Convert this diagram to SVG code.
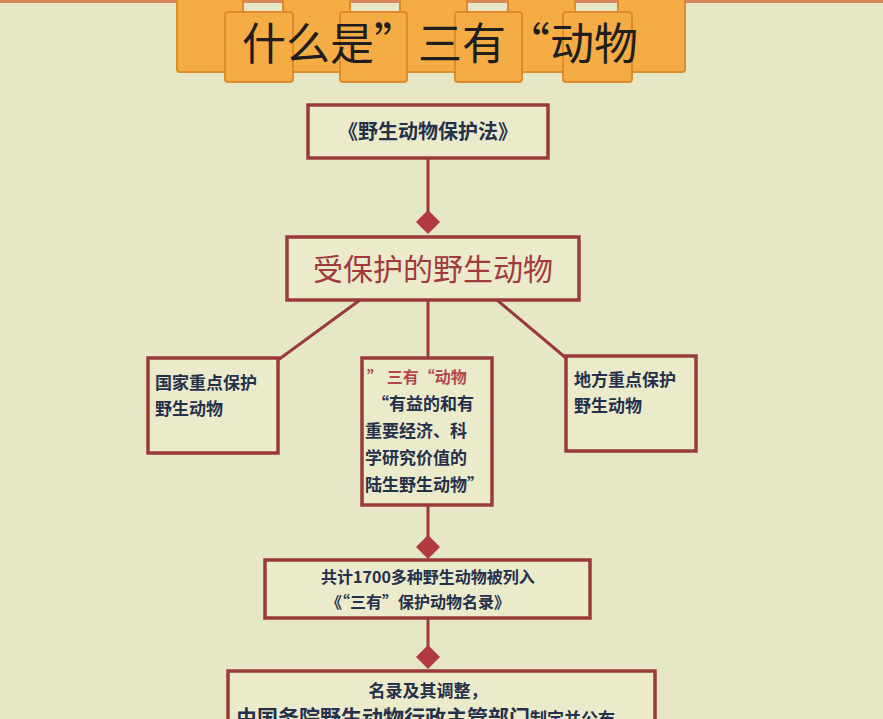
<svg xmlns="http://www.w3.org/2000/svg" width="883" height="719" viewBox="0 0 883 719">
<style>
.t{fill:#f5ac45;stroke:#e08a2a;stroke-width:2}
.b{fill:#ebebcc;stroke:#9a3b35;stroke-width:3.5}
.c{stroke:#9a3b35;stroke-width:3;fill:none}
.d{fill:#b23a3f}
text{font-family:"Noto Sans CJK SC","Liberation Sans",sans-serif;fill:#25304a;font-weight:bold}
</style>
<rect width="883" height="719" fill="#e6e7c7"/>
<rect width="883" height="3" fill="#d9865a"/>
<g id="title">
<rect class="t" x="177" y="-2" width="66" height="74" rx="3"/>
<rect class="t" x="283" y="-2" width="67" height="74" rx="3"/>
<rect class="t" x="400" y="-2" width="67" height="74" rx="3"/>
<rect class="t" x="508" y="-2" width="67" height="74" rx="3"/>
<rect class="t" x="618" y="-2" width="67" height="74" rx="3"/>
<rect class="t" x="225" y="12" width="68" height="70" rx="3"/>
<rect class="t" x="340" y="12" width="67" height="70" rx="3"/>
<rect class="t" x="455" y="12" width="67" height="70" rx="3"/>
<rect class="t" x="563" y="12" width="69" height="70" rx="3"/>
<text x="440" y="60" font-size="44" text-anchor="middle" style="font-weight:normal;fill:#1e1e1e">什么是”三有“动物</text>
</g>
<g id="connectors">
<path class="c" d="M428 158V222M360 300L278 360M428 300V358M497 300L566 358M428 505V547M428 618V657"/>
<path class="d" d="M428 210l12 12-12 12-12-12z"/>
<path class="d" d="M428 535l12 12-12 12-12-12z"/>
<path class="d" d="M428 645l12 12-12 12-12-12z"/>
</g>
<g id="law"><rect class="b" x="308" y="105" width="240" height="53"/>
<text x="428" y="139" font-size="20" text-anchor="middle">《野生动物保护法》</text></g>
<g id="protected"><rect class="b" x="287" y="237" width="292" height="63"/>
<text x="433" y="280" font-size="30" text-anchor="middle" style="fill:#a23a3c;font-weight:normal">受保护的野生动物</text></g>
<g id="national"><rect class="b" x="148" y="358" width="130" height="95"/>
<text x="155" y="389" font-size="17">国家重点保护</text><text x="155" y="415" font-size="17">野生动物</text></g>
<g id="sanyou"><rect class="b" x="362" y="358" width="130" height="147"/>
<text x="367" y="383" font-size="16" style="fill:#b2464a">” 三有“动物</text>
<text x="372" y="410" font-size="17">“有益的和有</text>
<text x="365" y="437" font-size="17">重要经济、科</text>
<text x="365" y="464" font-size="17">学研究价值的</text>
<text x="365" y="491" font-size="17">陆生野生动物”</text></g>
<g id="local"><rect class="b" x="566" y="356" width="130" height="95"/>
<text x="574" y="386" font-size="17">地方重点保护</text><text x="574" y="412" font-size="17">野生动物</text></g>
<g id="list"><rect class="b" x="265" y="560" width="325" height="58"/>
<text x="428" y="583" font-size="16" text-anchor="middle">共计1700多种野生动物被列入</text>
<text x="418" y="608" font-size="16" text-anchor="middle">《“三有”保护动物名录》</text></g>
<g id="adjust"><rect class="b" x="228" y="671" width="427" height="70"/>
<text x="428" y="697" font-size="17" text-anchor="middle">名录及其调整，</text>
<text x="236" y="725" font-size="21">由国务院野生动物行政主管部门<tspan font-size="17">制定并公布</tspan></text></g>
</svg>
